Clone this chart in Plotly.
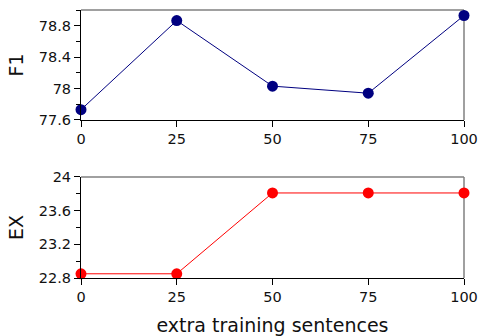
import plotly.graph_objects as go

x_vals = [0, 25, 50, 75, 100]
f1_vals = [77.73, 78.865, 78.03, 77.94, 78.93]
ex_vals = [22.85, 22.85, 23.81, 23.81, 23.81]
x_ticks = [0, 25, 50, 75, 100]
f1_ticks = [77.6, 78.0, 78.4, 78.8]
f1_tick_text = ["77.6", "78", "78.4", "78.8"]
ex_ticks = [22.8, 23.2, 23.6, 24.0]
ex_tick_text = ["22.8", "23.2", "23.6", "24"]

fig = go.Figure()
fig.add_trace(go.Scatter(x=x_vals, y=f1_vals, mode="lines+markers",
                         line=dict(color="#000080", width=1),
                         marker=dict(color="#000080", size=11),
                         xaxis="x", yaxis="y", cliponaxis=False, showlegend=False))
fig.add_trace(go.Scatter(x=x_vals, y=ex_vals, mode="lines+markers",
                         line=dict(color="#ff0000", width=1),
                         marker=dict(color="#ff0000", size=11),
                         xaxis="x2", yaxis="y2", cliponaxis=False, showlegend=False))

font = dict(family="DejaVu Sans", size=14.5, color="#111111")
tfont = dict(family="DejaVu Sans", size=19, color="#111111")
common_x = dict(range=[0, 100], tickvals=x_ticks, ticks="outside", ticklen=6,
                tickcolor="black", showline=True, linecolor="black", linewidth=1,
                showgrid=False, zeroline=False, tickfont=font, automargin=False)
common_y = dict(ticks="outside", ticklen=6, tickcolor="black", showline=True,
                linecolor="black", linewidth=1, showgrid=False, zeroline=False,
                tickfont=font, automargin=False,
                minor=dict(ticks="outside", ticklen=4, tickcolor="black", dtick=0.2))

fig.update_layout(
    width=478, height=336,
    margin=dict(l=81, r=14, t=10, b=58),
    plot_bgcolor="white", paper_bgcolor="white",
    font=font,
    xaxis=dict(domain=[0, 1], anchor="y", **common_x),
    yaxis=dict(domain=[0.59, 1], anchor="x", range=[77.6, 79.0], tickvals=f1_ticks,
               ticktext=f1_tick_text,
               title=dict(text="F1", font=tfont, standoff=10),
               **common_y),
    xaxis2=dict(domain=[0, 1], anchor="y2",
                title=dict(text="extra training sentences", font=tfont, standoff=14),
                **common_x),
    yaxis2=dict(domain=[0, 0.377], anchor="x2", range=[22.8, 24.0], tickvals=ex_ticks,
                ticktext=ex_tick_text,
                title=dict(text="EX", font=tfont, standoff=10),
                **common_y),
)

for xa, ya in [("x", "y"), ("x2", "y2")]:
    fig.add_shape(type="line", xref=f"{xa} domain", yref=f"{ya} domain",
                  x0=0, x1=1, y0=1, y1=1, line=dict(color="#808080", width=1.5), layer="below")
    fig.add_shape(type="line", xref=f"{xa} domain", yref=f"{ya} domain",
                  x0=1, x1=1, y0=0, y1=1, line=dict(color="#808080", width=1.5), layer="below")

fig.write_html("out.html", config={"displayModeBar": False},
               post_script="document.body.style.margin='0';document.body.style.padding='0';document.body.style.overflow='hidden';")
